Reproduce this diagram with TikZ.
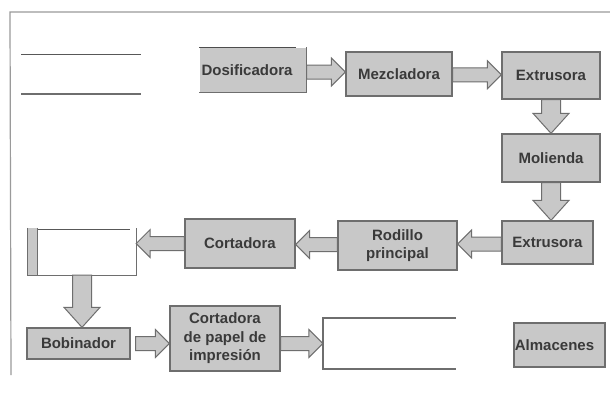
\documentclass[tikz,border=0pt]{standalone}
\usepackage{fontspec}
\setmainfont{Liberation Sans}
\usetikzlibrary{calc}
\definecolor{boxfill}{HTML}{C8C8C8}
\definecolor{edge}{HTML}{6E6E6E}
\definecolor{txt}{HTML}{3A3A3A}
\definecolor{frame}{HTML}{9A9A9A}
\tikzset{
  blk/.style={fill=boxfill, draw=edge, line width=1.3pt, text=txt,
    font=\bfseries\fontsize{15}{18.5}\selectfont, align=center,
    inner sep=0pt, minimum width=#1},
  blk/.default=100pt,
  fat/.style={fill=boxfill, draw=edge, line width=1pt, line join=miter},
  openbox/.style={draw=none, inner sep=0pt},
}
\newcommand\harrow[3]{%
  \draw[fat] let \p1=(#1), \p2=(#2), \p3=(#3), \n1={sign(\x2-\x1)} in
    (\x1,\y3+7) -- ({\x2-\n1*14},\y3+7) -- ({\x2-\n1*14},\y3+14) -- (\x2,\y3)
    -- ({\x2-\n1*14},\y3-14) -- ({\x2-\n1*14},\y3-7) -- (\x1,\y3-7) -- cycle;}
\newcommand\varrow[2]{%
  \draw[fat] let \p1=(#1), \p2=(#2), \n1={sign(\y2-\y1)} in
    (\x1+9.5,\y1) -- (\x1+9.5,{\y2-\n1*20}) -- (\x1+18,{\y2-\n1*20}) -- (\x1,\y2)
    -- (\x1-18,{\y2-\n1*20}) -- (\x1-9.5,{\y2-\n1*20}) -- (\x1-9.5,\y1) -- cycle;}
\begin{document}
\begin{tikzpicture}[x=1pt,y=-1pt]
\useasboundingbox[fill=white] (0,0) rectangle (610,418);
% frame
\coordinate (fa) at (10,12);
\coordinate (fb) at (610,12);
\coordinate (fc) at (11,375);
\draw[frame, line width=1.2pt] (fb) -- (fa) -- (fc);
% left lines
\coordinate (l1a) at (21,54); \coordinate (l1b) at (141,54);
\coordinate (l2a) at (21,94); \coordinate (l2b) at (141,94);
\draw[edge!80!black, line width=1pt] (l1a) -- (l1b);
\draw[edge, line width=2.2pt] (l2a) -- (l2b);

% boxes
\node[blk, draw=none, minimum width=106pt, minimum height=44pt] (dos) at (253,70) {Dosificadora\hspace*{12pt}};
\draw[edge!70!black, line width=1.3pt] (dos.north west) -- ([xshift=-11pt]dos.north east);
\draw[edge, line width=1.1pt] (dos.north east) -- (dos.south east) -- (dos.south west);
\node[blk, minimum width=106pt, minimum height=44pt] (mez) at (399,74) {Mezcladora};
\node[blk, minimum width=98pt, minimum height=47pt] (ext1) at (551,75.5) {Extrusora};
\node[blk, minimum width=98pt, minimum height=48pt] (mol) at (551,158) {Molienda};
\node[blk, minimum width=91pt, minimum height=43pt] (ext2) at (547.5,242.5) {Extrusora};
\node[blk, minimum width=119pt, minimum height=49pt] (rod) at (397.5,245.5) {Rodillo\\principal};
\node[blk, minimum width=110pt, minimum height=49pt] (cor) at (240,243.5) {Cortadora};
\node[openbox, minimum width=108pt, minimum height=47pt] (lbox) at (82,251.5) {};
\fill[boxfill] (lbox.north west) rectangle ([xshift=10pt]lbox.south west);
\draw[edge, line width=1.1pt] (lbox.north west) -- (lbox.south west) -- (lbox.south east) -- (lbox.north east)
  ([xshift=10pt]lbox.north west) -- ([xshift=10pt]lbox.south west);
\draw[edge!80!black, line width=1.3pt] ([xshift=10pt,yshift=-2pt]lbox.north west) -- ([xshift=-6pt,yshift=-2pt]lbox.north east);
\node[blk, minimum width=103pt, minimum height=31pt] (bob) at (78.5,343.5) {Bobinador};
\node[blk, minimum width=110pt, minimum height=65pt] (cpi) at (225,338.5) {Cortadora\\de papel de\\impresión};
\node[openbox, minimum width=133pt, minimum height=51pt] (rbox) at (389.5,343.5) {};
\draw[edge, line width=1.6pt] (rbox.north east) -- (rbox.north west) -- (rbox.south west) -- (rbox.south east);
\node[blk, minimum width=91pt, minimum height=44pt] (alm) at (559.5,345) {Almacenes\hspace*{10pt}};

% arrows
\harrow{dos.east}{mez.west}{$(dos)!0.5!(mez)$}
\harrow{mez.east}{ext1.west}{$(mez)!0.5!(ext1)$}
\varrow{ext1.south}{mol.north}
\varrow{mol.south}{ext2.north}
\harrow{ext2.west}{rod.east}{$(ext2)!0.5!(rod)$}
\harrow{rod.west}{cor.east}{$(rod)!0.5!(cor)$}
\harrow{cor.west}{lbox.east}{cor}
\varrow{lbox.south}{bob.north}
\harrow{[xshift=5pt]bob.east}{cpi.west}{bob}
\harrow{cpi.east}{rbox.west}{rbox}
\end{tikzpicture}
\end{document}
